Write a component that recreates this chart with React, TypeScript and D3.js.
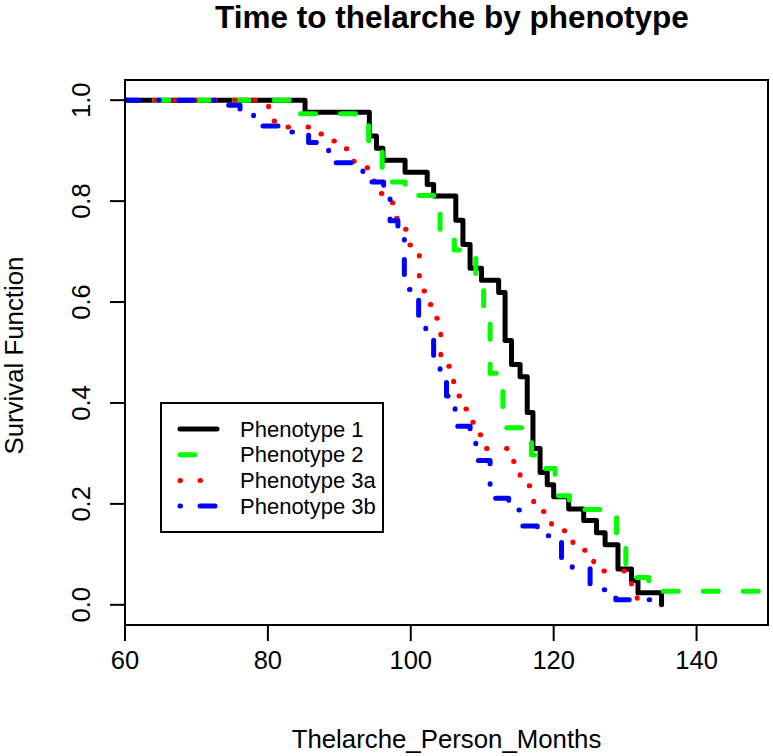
import React from "react";
import * as d3 from "d3";

// ---------- data ----------
const titleText = "Time to thelarche by phenotype";
const xLabel = "Thelarche_Person_Months";
const yLabel = "Survival Function";
const xTicks = [60, 80, 100, 120, 140];
const yTicks = [0, 0.2, 0.4, 0.6, 0.8, 1.0];
const xDomain = [60, 150];
const yDomain = [-0.04, 1.04];
const startTime = 60;

const seriesNames = ["Phenotype 1", "Phenotype 2", "Phenotype 3a", "Phenotype 3b"];

// Phenotype 1 (Kaplan-Meier step times and survival after each step)
const p1Times = [85.2, 94.2, 95.2, 96.1, 99.2, 102.3, 103.2, 106.3, 107.3, 108.3, 109.9, 112.3, 113.2, 114.1, 115.3, 116.3, 117.1, 118.1, 119.1, 120.0, 122.1, 124.2, 126.0, 127.2, 129.0, 130.9, 131.8, 135.1];
const p1Surv = [0.976, 0.929, 0.905, 0.881, 0.857, 0.833, 0.81, 0.762, 0.714, 0.667, 0.643, 0.619, 0.524, 0.476, 0.452, 0.381, 0.31, 0.262, 0.238, 0.214, 0.19, 0.167, 0.143, 0.119, 0.071, 0.048, 0.024, 0.0];
const p1End = 135.1;

// Phenotype 2
const p2Times = [84.1, 94.1, 96.0, 99.2, 104.1, 106.1, 109.1, 110.2, 111.1, 112.9, 116.9, 118.4, 120.2, 122.2, 128.8, 130.1, 133.3];
const p2Surv = [0.973, 0.919, 0.838, 0.811, 0.73, 0.703, 0.649, 0.568, 0.459, 0.351, 0.297, 0.27, 0.216, 0.189, 0.135, 0.054, 0.027];
const p2End = 149.4;

// Phenotype 3a
const p3aTimes = [80.1, 81.9, 86.6, 88.5, 90.2, 91.6, 93.0, 94.4, 95.5, 96.9, 97.9, 98.8, 99.8, 101.2, 101.6, 102.6, 103.5, 104.2, 105.0, 106.0, 106.7, 107.6, 108.6, 109.6, 110.6, 114.4, 115.3, 116.5, 117.2, 118.2, 119.7, 121.2, 122.7, 124.1, 125.6, 127.0, 130.9, 131.7];
const p3aSurv = [0.959, 0.947, 0.933, 0.919, 0.904, 0.879, 0.866, 0.84, 0.815, 0.797, 0.766, 0.744, 0.713, 0.647, 0.622, 0.595, 0.568, 0.49, 0.473, 0.439, 0.414, 0.388, 0.362, 0.337, 0.31, 0.284, 0.256, 0.236, 0.196, 0.185, 0.16, 0.147, 0.122, 0.108, 0.084, 0.067, 0.036, 0.01];
const p3aEnd = 132.4;

// Phenotype 3b
const p3bTimes = [73.6, 76.1, 78.0, 83.1, 85.7, 88.5, 93.3, 96.2, 97.1, 98.2, 99.1, 101.1, 102.1, 103.2, 104.1, 105.0, 106.2, 108.3, 109.1, 111.1, 113.7, 115.2, 117.7, 121.1, 122.6, 125.1, 128.7];
const p3bSurv = [0.99, 0.977, 0.949, 0.937, 0.916, 0.876, 0.838, 0.81, 0.761, 0.731, 0.625, 0.572, 0.531, 0.489, 0.45, 0.414, 0.354, 0.325, 0.286, 0.211, 0.188, 0.156, 0.137, 0.092, 0.073, 0.03, 0.01];
const p3bEnd = 134.9;

const seriesTimes = [p1Times, p2Times, p3aTimes, p3bTimes];
const seriesSurv = [p1Surv, p2Surv, p3aSurv, p3bSurv];
const seriesEnd = [p1End, p2End, p3aEnd, p3bEnd];

// ---------- styles ----------
const seriesColors = ["#000000", "#00ff00", "#ff0000", "#0000ff"];
const seriesDash = ["none", "15 25", "0.5 19.5", "0.5 19.5 15 20"];
const seriesOffset = [0, 10.8, 10.25, 21.25];
const lineW = 5;

const W = 773;
const H = 756;
const box = { left: 125, right: 768, top: 80, bottom: 625 };
const font = "'Liberation Sans', Arial, Helvetica, sans-serif";

export default function App() {
  const x = d3.scaleLinear().domain(xDomain).range([box.left, box.right]);
  const y = d3.scaleLinear().domain(yDomain).range([box.bottom, box.top]);
  const line = d3
    .line<[number, number]>()
    .x((d) => x(d[0]))
    .y((d) => y(d[1]))
    .curve(d3.curveStepAfter);

  const paths = seriesTimes.map((times, i) => {
    const surv = seriesSurv[i];
    const pts: [number, number][] = [[startTime, 1]];
    times.forEach((t, j) => pts.push([t, surv[j]]));
    pts.push([seriesEnd[i], surv[surv.length - 1]]);
    return line(pts) || "";
  });

  const legend = { left: 161, top: 403, right: 383, bottom: 532, row0: 429, rowH: 25.7, x1: 180, x2: 217, tx: 240 };

  return (
    <svg
      width={W}
      height={H}
      style={{ position: "absolute", left: 0, top: 0, background: "#fff" }}
      fontFamily={font}
    >
      <rect x={0} y={0} width={W} height={H} fill="#fff" />
      <defs>
        <clipPath id="plotclip">
          <rect x={box.left} y={box.top} width={box.right - box.left} height={box.bottom - box.top} />
        </clipPath>
      </defs>

      {/* title */}
      <text x={452} y={28} textAnchor="middle" fontSize={31.5} fontWeight="bold" fill="#000">
        {titleText}
      </text>

      {/* curves */}
      <g clipPath="url(#plotclip)">
        {paths.map((d, i) => (
          <path
            key={i}
            d={d}
            fill="none"
            stroke={seriesColors[i]}
            strokeWidth={lineW}
            strokeDasharray={seriesDash[i]}
            strokeDashoffset={seriesOffset[i]}
            strokeLinecap="round"
            strokeLinejoin="round"
          />
        ))}
      </g>

      {/* box */}
      <rect
        x={box.left}
        y={box.top}
        width={box.right - box.left}
        height={box.bottom - box.top}
        fill="none"
        stroke="#000"
        strokeWidth={2}
      />

      {/* x axis */}
      {xTicks.map((t) => (
        <g key={"xt" + t}>
          <line x1={x(t)} x2={x(t)} y1={box.bottom} y2={box.bottom + 16} stroke="#000" strokeWidth={2} />
          <text x={x(t)} y={669} textAnchor="middle" fontSize={25.5} fill="#000">
            {t}
          </text>
        </g>
      ))}
      <text x={(box.left + box.right) / 2} y={748} textAnchor="middle" fontSize={25.8} fill="#000">
        {xLabel}
      </text>

      {/* y axis */}
      {yTicks.map((t) => (
        <g key={"yt" + t}>
          <line x1={box.left - 15} x2={box.left} y1={y(t)} y2={y(t)} stroke="#000" strokeWidth={2} />
          <text
            transform={`translate(${90},${y(t)}) rotate(-90)`}
            textAnchor="middle"
            fontSize={25.5}
            fill="#000"
          >
            {t.toFixed(1)}
          </text>
        </g>
      ))}
      <text
        transform={`translate(${23},${(box.top + box.bottom) / 2 + 3}) rotate(-90)`}
        textAnchor="middle"
        fontSize={25.8}
        fill="#000"
      >
        {yLabel}
      </text>

      {/* legend */}
      <rect
        x={legend.left}
        y={legend.top}
        width={legend.right - legend.left}
        height={legend.bottom - legend.top}
        fill="#fff"
        stroke="#000"
        strokeWidth={2}
      />
      {seriesNames.map((name, i) => {
        const ry = legend.row0 + i * legend.rowH;
        return (
          <g key={name}>
            <line
              x1={legend.x1}
              x2={legend.x2}
              y1={ry}
              y2={ry}
              stroke={seriesColors[i]}
              strokeWidth={lineW}
              strokeDasharray={seriesDash[i]}
              strokeLinecap="round"
            />
            <text x={legend.tx} y={ry} dy="0.35em" fontSize={22} fill="#000">
              {name}
            </text>
          </g>
        );
      })}
    </svg>
  );
}
